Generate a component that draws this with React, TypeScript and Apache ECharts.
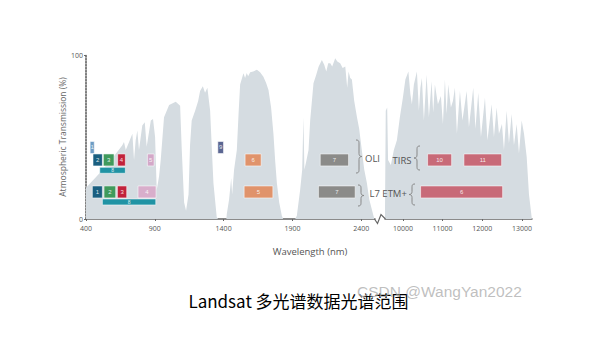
import React, { useEffect, useRef } from 'react';
import * as echarts from 'echarts';

// ---- Atmospheric transmission, VNIR / SWIR segment (nm, %) ----
const swirWavelength = [
  400, 500, 600, 664, 676, 689, 713, 737, 749, 761, 773, 785, 809, 827, 841, 871, 887, 902, 914, 931, 943, 967,
  1004, 1052, 1084, 1096, 1113, 1127, 1145, 1156, 1168, 1193, 1215, 1229, 1249, 1265, 1282, 1302, 1316, 1326, 1350,
  1360, 1420, 1423, 1440, 1455, 1462, 1476, 1496, 1509, 1520, 1544, 1556, 1568, 1578, 1593, 1615, 1642, 1665, 1689,
  1709, 1726, 1745, 1762, 1775, 1787, 1804, 1823, 1833, 1920, 1932, 1956, 1971, 1980, 1987, 2000, 2017, 2029, 2053,
  2073, 2090, 2114, 2131, 2146, 2160, 2175, 2189, 2211, 2226, 2247, 2265, 2284, 2298, 2308, 2320, 2332, 2349, 2369,
  2385, 2404, 2422, 2441, 2458, 2478, 2495,
];
const swirTransmission = [
  19, 28, 38, 45, 47, 42, 47, 52, 36, 48, 54, 42, 57, 59, 44, 60, 61, 50, 17.7, 26, 36, 62,
  69.5, 71.5, 69, 42, 10, 5, 15, 45, 60, 66, 72, 78, 81, 77, 80, 66, 40, 22, 1,
  0, 0, 3, 12, 25, 15, 30, 42, 65, 82, 88.8, 86, 89, 87, 89.5, 90, 91, 89.5, 86.8,
  83, 78.7, 68, 52, 35, 22, 10, 2, 0, 0, 2, 17.7, 30, 62, 30, 35, 42, 60, 82.7,
  88, 92.9, 97, 94, 90, 95, 95, 93, 98, 96, 95, 92, 93, 80, 90, 86, 85, 72, 62,
  55, 42, 30, 22, 12, 5.5, 0,
];

// ---- Atmospheric transmission, thermal segment (nm, %) ----
const tirWavelength = [
  9549, 9569, 9605, 9627, 9698, 9773, 9849, 9924, 10000, 10063, 10139, 10189, 10227, 10277, 10353, 10403, 10441,
  10479, 10529, 10597, 10655, 10723, 10763, 10806, 10882, 10957, 11008, 11058, 11101, 11141, 11209, 11260, 11310,
  11360, 11436, 11499, 11605, 11663, 11771, 11826, 11897, 11965, 12066, 12129, 12234, 12292, 12360, 12418, 12494,
  12544, 12612, 12670, 12738, 12796, 12864, 12922, 12990, 13049, 13116, 13174, 13242,
];
const tirTransmission = [
  2, 66, 68, 36, 33, 42, 48, 62, 74, 85, 90, 76, 70, 82, 90, 66, 80,
  86, 60, 88, 62, 84, 65, 82, 70, 75, 58, 85, 64, 82, 68, 72, 80,
  52, 78, 60, 78, 56, 80, 55, 77, 50, 74, 48, 70, 50, 68, 52, 58,
  42, 66, 46, 64, 45, 58, 40, 60, 52, 38, 15, 1,
];

// ---- Tick labels ----
const swirTicks = [400, 900, 1400, 1900, 2400];
const tirTicks = [10000, 11000, 12000, 13000];
const yTicks = [0, 100];

// ---- Landsat 8 OLI bands ----
const oliLabels = ['1', '2', '3', '4', '5', '6', '7', '8', '9'];
const oliStart = [430, 451, 526, 630, 846, 1556, 2102, 500, 1358];
const oliEnd = [460, 519, 604, 686, 895, 1673, 2308, 686, 1399];
const oliRow = ['oliTop', 'oli', 'oli', 'oli', 'oli', 'oli', 'oli', 'oliPan', 'oliTop'];
const oliColors = ['#6e9cc4', '#1a5f80', '#409a5c', '#c1223b', '#d3a8c8', '#e0936b', '#8b8b89', '#2093a4', '#5b6692'];

// ---- Landsat 8 TIRS bands ----
const tirsLabels = ['10', '11'];
const tirsStart = [10622, 11536];
const tirsEnd = [11227, 12486];
const tirsRow = ['oli', 'oli'];
const tirsColors = ['#c86a78', '#c86a78'];

// ---- Landsat 7 ETM+ bands ----
const etmLabels = ['1', '2', '3', '4', '5', '7', '8'];
const etmStart = [446, 531, 628, 778, 1549, 2089, 519];
const etmEnd = [519, 616, 696, 909, 1758, 2356, 907];
const etmRow = ['etm', 'etm', 'etm', 'etm', 'etm', 'etm', 'etmPan'];
const etmColors = ['#1a5f80', '#409a5c', '#c1223b', '#d8aecb', '#e0936b', '#8b8b89', '#2093a4'];

const etmThermalLabels = ['6'];
const etmThermalStart = [10446];
const etmThermalEnd = [12511];
const etmThermalRow = ['etm'];
const etmThermalColors = ['#c86a78'];

// row levels (in % units of the y axis) and box heights (px)
const rowLevel: Record<string, number> = { oliTop: 43.6, oli: 36, oliPan: 29.7, etm: 16.5, etmPan: 10.4 };
const rowHeight: Record<string, number> = { oliTop: 12, oli: 12, oliPan: 6, etm: 12, etmPan: 6 };

function braceRightPath(h: number) {
  const m = h / 2;
  return `M0,0 C3,0 3,1.5 3,4 L3,${m - 3} C3,${m - 1} 4,${m} 6,${m} C4,${m} 3,${m + 1} 3,${m + 3} L3,${h - 4} C3,${h - 1.5} 3,${h} 0,${h}`;
}
function braceLeftPath(h: number) {
  const m = h / 2;
  return `M6,0 C3,0 3,1.5 3,4 L3,${m - 3} C3,${m - 1} 2,${m} 0,${m} C2,${m} 3,${m + 1} 3,${m + 3} L3,${h - 4} C3,${h - 1.5} 3,${h} 6,${h}`;
}
echarts.graphic.registerShape('braceR33', echarts.graphic.extendPath(braceRightPath(33), {}));
echarts.graphic.registerShape('braceR21', echarts.graphic.extendPath(braceRightPath(21), {}));
echarts.graphic.registerShape('braceL24', echarts.graphic.extendPath(braceLeftPath(24), {}));
echarts.graphic.registerShape('braceL21', echarts.graphic.extendPath(braceLeftPath(21), {}));

function bandSeries(
  name: string, idx: number, labels: string[], starts: number[], ends: number[], rows: string[], colors: string[],
) {
  return {
    type: 'custom',
    name,
    xAxisIndex: idx,
    yAxisIndex: idx,
    z: 5,
    clip: false,
    silent: true,
    encode: { x: [0, 1], y: 2 },
    data: labels.map((_, i) => [starts[i], ends[i], rowLevel[rows[i]], i]),
    renderItem: (_params: any, api: any) => {
      const i = api.value(3);
      const a = api.coord([api.value(0), api.value(2)]);
      const b = api.coord([api.value(1), api.value(2)]);
      const h = rowHeight[rows[i]];
      return {
        type: 'group',
        children: [
          {
            type: 'rect',
            shape: { x: a[0], y: a[1] - h / 2, width: b[0] - a[0], height: h },
            style: { fill: colors[i], stroke: 'rgba(255,255,255,0.55)', lineWidth: 1 },
          },
          {
            type: 'text',
            style: {
              text: labels[i],
              x: (a[0] + b[0]) / 2,
              y: a[1],
              align: 'center',
              verticalAlign: 'middle',
              fill: 'rgba(255,255,255,0.85)',
              fontSize: h < 8 ? 5 : 6,
              fontFamily: 'Liberation Sans',
            },
          },
        ],
      };
    },
  };
}

const AREA = '#d5dce1';
const AXIS = '#666';
const TXT = '#555';
const plain = (v: number) => String(v);

export default function App() {
  const ref = useRef<HTMLDivElement>(null);
  useEffect(() => {
    if (!ref.current) return;
    const chart = echarts.init(ref.current, null, { renderer: 'svg' });
    const xCommon = {
      type: 'value',
      axisLine: { show: true, lineStyle: { color: AXIS, width: 1.5 } },
      axisTick: { show: true, length: 2, lineStyle: { color: AXIS } },
      axisLabel: { fontSize: 7, color: TXT, margin: 6, fontFamily: 'Open Sans', formatter: plain },
      splitLine: { show: false },
    };
    chart.setOption({
      animation: false,
      backgroundColor: '#fff',
      grid: [
        { left: 86, top: 55, width: 289, height: 164 },
        { left: 385, top: 55, width: 147, height: 164 },
      ],
      xAxis: [
        {
          ...xCommon,
          gridIndex: 0,
          min: 400,
          max: 2500,
          axisTick: { ...xCommon.axisTick, customValues: swirTicks },
          axisLabel: { ...xCommon.axisLabel, customValues: swirTicks },
        },
        {
          ...xCommon,
          gridIndex: 1,
          min: 9550,
          max: 13250,
          axisTick: { ...xCommon.axisTick, customValues: tirTicks },
          axisLabel: { ...xCommon.axisLabel, customValues: tirTicks },
        },
      ],
      yAxis: [
        {
          type: 'value',
          gridIndex: 0,
          min: 0,
          max: 100,
          interval: 100,
          name: 'Atmospheric Transmission (%)',
          nameLocation: 'middle',
          nameGap: 7,
          nameTextStyle: { fontSize: 8.5, color: '#666', fontFamily: 'Open Sans' },
          axisLine: { show: true, lineStyle: { color: '#555', width: 1.5, type: [1.5, 1.5] } },
          axisTick: { show: true, length: 2, lineStyle: { color: AXIS } },
          axisLabel: {
            fontSize: 7, color: TXT, margin: 3, fontFamily: 'Open Sans',
            customValues: yTicks, formatter: plain,
          },
          splitLine: { show: false },
        },
        { type: 'value', gridIndex: 1, min: 0, max: 100, show: false },
      ],
      series: [
        {
          type: 'line',
          xAxisIndex: 0,
          yAxisIndex: 0,
          data: swirWavelength.map((w, i) => [w, swirTransmission[i]]),
          showSymbol: false,
          symbol: 'none',
          lineStyle: { width: 0, color: AREA },
          itemStyle: { color: AREA },
          areaStyle: { color: AREA, opacity: 1 },
          silent: true,
          z: 1,
        },
        {
          type: 'line',
          xAxisIndex: 1,
          yAxisIndex: 1,
          data: tirWavelength.map((w, i) => [w, tirTransmission[i]]),
          showSymbol: false,
          symbol: 'none',
          lineStyle: { width: 0, color: AREA },
          itemStyle: { color: AREA },
          areaStyle: { color: AREA, opacity: 1 },
          silent: true,
          z: 1,
        },
        bandSeries('OLI', 0, oliLabels, oliStart, oliEnd, oliRow, oliColors),
        bandSeries('ETM+', 0, etmLabels, etmStart, etmEnd, etmRow, etmColors),
        bandSeries('TIRS', 1, tirsLabels, tirsStart, tirsEnd, tirsRow, tirsColors),
        bandSeries('ETM+ 6', 1, etmThermalLabels, etmThermalStart, etmThermalEnd, etmThermalRow, etmThermalColors),
      ],
      graphic: [
        {
          type: 'polyline',
          shape: { points: [[374.5, 219], [377.5, 223.5], [381, 214.5], [385.5, 219]] },
          style: { stroke: AXIS, lineWidth: 1.2, fill: 'none' },
          z: 10,
        },
        { type: 'braceR33', x: 356, y: 140, style: { stroke: '#888', fill: 'none', lineWidth: 1 }, z: 10 },
        { type: 'braceR21', x: 358, y: 185, style: { stroke: '#888', fill: 'none', lineWidth: 1 }, z: 10 },
        { type: 'braceL24', x: 414, y: 146, style: { stroke: '#888', fill: 'none', lineWidth: 1 }, z: 10 },
        { type: 'braceL21', x: 409, y: 184, style: { stroke: '#888', fill: 'none', lineWidth: 1 }, z: 10 },
        {
          type: 'text', x: 365, y: 158, z: 10,
          style: { text: 'OLI', fontSize: 9.5, fill: TXT, align: 'left', verticalAlign: 'middle', fontFamily: 'Open Sans' },
        },
        {
          type: 'text', x: 411.5, y: 160.5, z: 10,
          style: { text: 'TIRS', fontSize: 9.5, fill: TXT, align: 'right', verticalAlign: 'middle', fontFamily: 'Open Sans' },
        },
        {
          type: 'text', x: 369.5, y: 193, z: 10,
          style: { text: 'L7 ETM+', fontSize: 9.5, fill: TXT, align: 'left', verticalAlign: 'middle', fontFamily: 'Open Sans' },
        },
        {
          type: 'text', x: 310, y: 251, z: 10,
          style: { text: 'Wavelength (nm)', fontSize: 9.5, fill: TXT, align: 'center', verticalAlign: 'middle', fontFamily: 'Open Sans' },
        },
        {
          type: 'text', x: 298.5, y: 300, z: 10,
          style: {
            text: 'Landsat 多光谱数据光谱范围', fontSize: 17, fill: '#000', align: 'center', verticalAlign: 'middle',
            fontFamily: 'Noto Sans CJK SC',
          },
        },
        {
          type: 'text', x: 357, y: 291, z: 11,
          style: {
            text: 'CSDN @WangYan2022', fontSize: 15.5, fill: 'rgba(170,170,170,0.75)', align: 'left',
            verticalAlign: 'middle', fontFamily: 'Liberation Sans',
          },
        },
      ],
    });
    return () => chart.dispose();
  }, []);
  return (
    <div
      ref={ref}
      style={{ position: 'absolute', left: 0, top: 0, width: 600, height: 340, background: '#fff' }}
    />
  );
}
